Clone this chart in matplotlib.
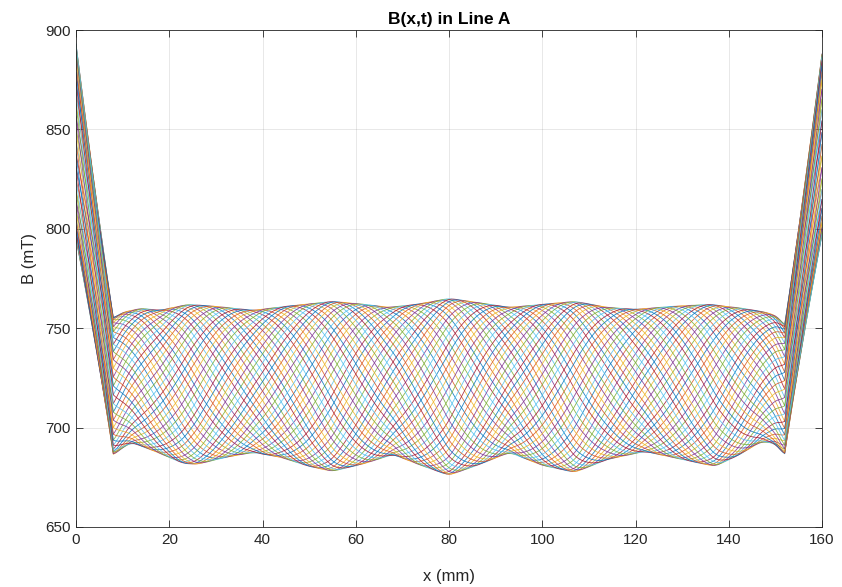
import numpy as np
import matplotlib
matplotlib.use("Agg")
import matplotlib.pyplot as plt

# ---- data ----
# upper / lower envelope of the family of B(x) curves inside the line (mm, mT)
upper_x = [8, 10, 14, 18, 24, 30, 38, 45, 55, 62, 67, 73, 80, 86, 93, 100, 107, 114, 120, 128, 136, 143, 148, 150.5, 152]
upper_B = [755, 758, 760, 759, 762, 761, 759, 761, 763.5, 762, 760.5, 762, 765, 763, 760.5, 762, 763.5, 760.5, 759.5, 761, 762, 760, 758, 756, 751]
lower_x = [8, 10, 12, 17, 23, 26, 32, 38, 44, 50, 55, 62, 68, 74, 80, 86, 93, 100, 107, 114, 122, 130, 137, 142, 147, 150, 152]
lower_B = [686, 690, 692.5, 688, 682, 681.5, 685, 687.5, 685, 680.5, 678, 682, 686.5, 681, 676, 681, 687.5, 681, 677.5, 684, 688, 684, 680.5, 686, 693, 692, 686]
# field values at the two ends of the line (x = 0 and x = 160 mm)
left_end_range = [795, 893]
right_end_range = [797, 888]
wavelength_mm = 64.0
# phase of the travelling wave at each time step (degrees)
phase_deg = [0, 7.5, 15, 22.5, 30, 37.5, 45, 52.5, 60, 67.5, 75, 82.5, 90, 97.5, 105, 112.5,
             120, 127.5, 135, 142.5, 150, 157.5, 165, 172.5, 180, 187.5, 195, 202.5, 210,
             217.5, 225, 232.5, 240, 247.5, 255, 262.5, 270, 277.5, 285, 292.5, 300, 307.5,
             315, 322.5, 330, 337.5, 345, 352.5]

x_in = np.arange(8, 152.5, 0.5)
up_raw = np.interp(x_in, upper_x, upper_B)
lo_raw = np.interp(x_in, lower_x, lower_B)
k = np.hanning(9); k /= k.sum()
def smooth(v):
    pad = len(k) // 2
    vv = np.concatenate([np.full(pad, v[0]), v, np.full(pad, v[-1])])
    return np.convolve(vv, k, mode='valid')
up = smooth(up_raw)
lo = smooth(lo_raw)

colors = [(0, 0.447, 0.741), (0.85, 0.325, 0.098), (0.929, 0.694, 0.125),
          (0.494, 0.184, 0.556), (0.466, 0.674, 0.188), (0.301, 0.745, 0.933),
          (0.635, 0.078, 0.184)]

fig = plt.figure(figsize=(8.42, 5.87), dpi=100)
ax = fig.add_axes([76/842, 60/587, 746/842, 497/587])

for i, p in enumerate(phase_deg):
    ph = np.deg2rad(p)
    frac = (1 + np.cos(2*np.pi*x_in/wavelength_mm - ph)) / 2
    B_in = lo + (up - lo) * frac
    fl = (1 + np.cos(-ph)) / 2
    fr = (1 + np.cos(2*np.pi*160/wavelength_mm - ph)) / 2
    B0 = left_end_range[0] + (left_end_range[1] - left_end_range[0]) * fl
    B1 = right_end_range[0] + (right_end_range[1] - right_end_range[0]) * fr
    xx = np.concatenate([[0], x_in, [160]])
    bb = np.concatenate([[B0], B_in, [B1]])
    ax.plot(xx, bb, color=colors[i % 7], lw=0.6, alpha=0.85)

gray = (0.15, 0.15, 0.15)
ax.set_xlim(0, 160)
ax.set_ylim(650, 900)
ax.set_xticks(np.arange(0, 161, 20))
ax.set_yticks(np.arange(650, 901, 50))
ax.grid(True, color=gray, alpha=0.12, lw=0.6)
ax.tick_params(direction='in', top=True, right=True, length=5, labelsize=11,
               colors=gray, width=0.6, pad=4)
for s in ax.spines.values():
    s.set_color(gray)
    s.set_linewidth(0.6)
font = 'Liberation Sans'
for lab in ax.get_xticklabels() + ax.get_yticklabels():
    lab.set_fontfamily(font)
ax.set_title('B(x,t) in Line A', fontsize=12.5, fontweight='bold', family=font,
             color='black', pad=4)
ax.set_xlabel('x (mm)', fontsize=12, family=font, color=gray)
ax.set_ylabel('B (mT)', fontsize=12, family=font, color=gray)
ax.xaxis.set_label_coords(0.5, -0.085)
ax.yaxis.set_label_coords(-0.052, 0.54)

fig.savefig('out.png', dpi=100)
